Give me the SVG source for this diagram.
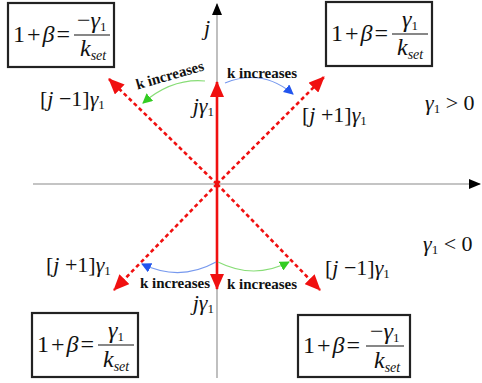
<svg xmlns="http://www.w3.org/2000/svg" width="482" height="383" viewBox="0 0 482 383" font-family="'Liberation Serif', 'DejaVu Serif', serif">
<style>
text{font-family:'Liberation Serif','DejaVu Serif',serif;fill:#111}
.f{font-size:24px}
.i{font-style:italic}
.s{font-size:13px;font-style:normal}
.ss{font-size:14px;font-style:italic}
.box{fill:#fff;stroke:#222;stroke-width:2.2}
.bar{stroke:#111;stroke-width:1.2}
.axis{stroke:#b0b0b0;stroke-width:1.6;fill:none}
.solid{stroke:#f01010;stroke-width:2.6;fill:none}
.dash{stroke:#f01010;stroke-width:2.6;fill:none;stroke-dasharray:4 3}
.kl{font-size:15px;font-weight:bold}
.lbl{font-size:22px}
</style>
<defs>
<marker id="ax" markerUnits="userSpaceOnUse" markerWidth="12" markerHeight="12" viewBox="0 0 12 12" refX="11" refY="6" orient="auto"><path d="M0,1 L12,6 L0,11 Z" fill="#000"/></marker>
<marker id="rd" markerUnits="userSpaceOnUse" markerWidth="16" markerHeight="14" viewBox="0 0 16 14" refX="15" refY="7" orient="auto"><path d="M0,0 L16,7 L0,14 Z" fill="#f01010"/></marker>
<marker id="gr" markerUnits="userSpaceOnUse" markerWidth="10" markerHeight="10" viewBox="0 0 10 10" refX="9" refY="5" orient="auto"><path d="M0,0 L10,5 L0,10 Z" fill="#33cc22"/></marker>
<marker id="bl" markerUnits="userSpaceOnUse" markerWidth="10" markerHeight="10" viewBox="0 0 10 10" refX="9" refY="5" orient="auto"><path d="M0,0 L10,5 L0,10 Z" fill="#2255ee"/></marker>
</defs>
<g id="connectors">
<line class="axis" x1="33" y1="184" x2="480" y2="184" marker-end="url(#ax)"/>
<line class="axis" x1="217" y1="378" x2="217" y2="4" marker-end="url(#ax)"/>
<line class="solid" x1="217" y1="184" x2="217" y2="82" marker-end="url(#rd)"/>
<line class="solid" x1="217" y1="184" x2="217" y2="289" marker-end="url(#rd)"/>
<line class="dash" x1="217" y1="184" x2="109" y2="79" marker-end="url(#rd)"/>
<line class="dash" x1="217" y1="184" x2="324" y2="77" marker-end="url(#rd)"/>
<line class="dash" x1="217" y1="184" x2="114" y2="290" marker-end="url(#rd)"/>
<line class="dash" x1="217" y1="184" x2="320" y2="290" marker-end="url(#rd)"/>
<path d="M205,81 Q172,78 143,103" stroke="#88dd77" stroke-width="1.2" fill="none" marker-end="url(#gr)"/>
<path d="M225,83 Q262,68 293,94" stroke="#7799ee" stroke-width="1.2" fill="none" marker-end="url(#bl)"/>
<path d="M216,262 Q180,282 142,264" stroke="#7799ee" stroke-width="1.2" fill="none" marker-end="url(#bl)"/>
<path d="M218,262 Q254,280 289,262" stroke="#88dd77" stroke-width="1.2" fill="none" marker-end="url(#gr)"/>
</g>
<g id="box-tl">
<rect class="box" x="8" y="3" width="106" height="64"/>
<text class="f" x="13" y="42" textLength="57" lengthAdjust="spacing">1+<tspan class="i">β</tspan>=</text>
<line class="bar" x1="74" y1="35" x2="110" y2="35"/>
<text class="f" x="77" y="28">−<tspan class="i">γ</tspan><tspan class="s" dy="3">1</tspan></text>
<text class="f i" x="80" y="56">k<tspan class="ss" dy="4">set</tspan></text>
</g>
<g id="box-tr">
<rect class="box" x="326" y="2" width="106" height="64"/>
<text class="f" x="331" y="41" textLength="57" lengthAdjust="spacing">1+<tspan class="i">β</tspan>=</text>
<line class="bar" x1="392" y1="34" x2="428" y2="34"/>
<text class="f i" x="402" y="27">γ<tspan class="s" dy="3">1</tspan></text>
<text class="f i" x="397" y="55">k<tspan class="ss" dy="4">set</tspan></text>
</g>
<g id="box-bl">
<rect class="box" x="32" y="313" width="106" height="64"/>
<text class="f" x="37" y="352" textLength="57" lengthAdjust="spacing">1+<tspan class="i">β</tspan>=</text>
<line class="bar" x1="98" y1="345" x2="134" y2="345"/>
<text class="f i" x="108" y="338">γ<tspan class="s" dy="3">1</tspan></text>
<text class="f i" x="103" y="367">k<tspan class="ss" dy="4">set</tspan></text>
</g>
<g id="box-br">
<rect class="box" x="298" y="315" width="112" height="62"/>
<text class="f" x="303" y="353" textLength="57" lengthAdjust="spacing">1+<tspan class="i">β</tspan>=</text>
<line class="bar" x1="366" y1="346" x2="404" y2="346"/>
<text class="f" x="370" y="339">−<tspan class="i">γ</tspan><tspan class="s" dy="3">1</tspan></text>
<text class="f i" x="374" y="368">k<tspan class="ss" dy="4">set</tspan></text>
</g>
<g id="labels">
<text class="lbl i" x="204" y="35">j</text>
<text class="kl" x="170" y="80" text-anchor="middle" transform="rotate(-16 170 76)">k increases</text>
<text class="kl" x="262" y="78" text-anchor="middle">k increases</text>
<text class="kl" x="175" y="288" text-anchor="middle">k increases</text>
<text class="kl" x="262" y="289" text-anchor="middle">k increases</text>
<text class="lbl" x="214" y="113" text-anchor="end"><tspan class="i">jγ</tspan><tspan class="s" dy="3">1</tspan></text>
<text class="lbl" x="214" y="310" text-anchor="end"><tspan class="i">jγ</tspan><tspan class="s" dy="3">1</tspan></text>
<text class="lbl" x="40" y="106">[<tspan class="i">j</tspan> −1]<tspan class="i">γ</tspan><tspan class="s" dy="3">1</tspan></text>
<text class="lbl" x="302" y="122">[<tspan class="i">j</tspan> +1]<tspan class="i">γ</tspan><tspan class="s" dy="3">1</tspan></text>
<text class="lbl" x="46" y="272">[<tspan class="i">j</tspan> +1]<tspan class="i">γ</tspan><tspan class="s" dy="3">1</tspan></text>
<text class="lbl" x="325" y="275">[<tspan class="i">j</tspan> −1]<tspan class="i">γ</tspan><tspan class="s" dy="3">1</tspan></text>
<text class="lbl" x="425" y="110"><tspan class="i">γ</tspan><tspan class="s" dy="3">1</tspan><tspan dy="-3"> &gt; 0</tspan></text>
<text class="lbl" x="423" y="251"><tspan class="i">γ</tspan><tspan class="s" dy="3">1</tspan><tspan dy="-3"> &lt; 0</tspan></text>
</g>
</svg>
